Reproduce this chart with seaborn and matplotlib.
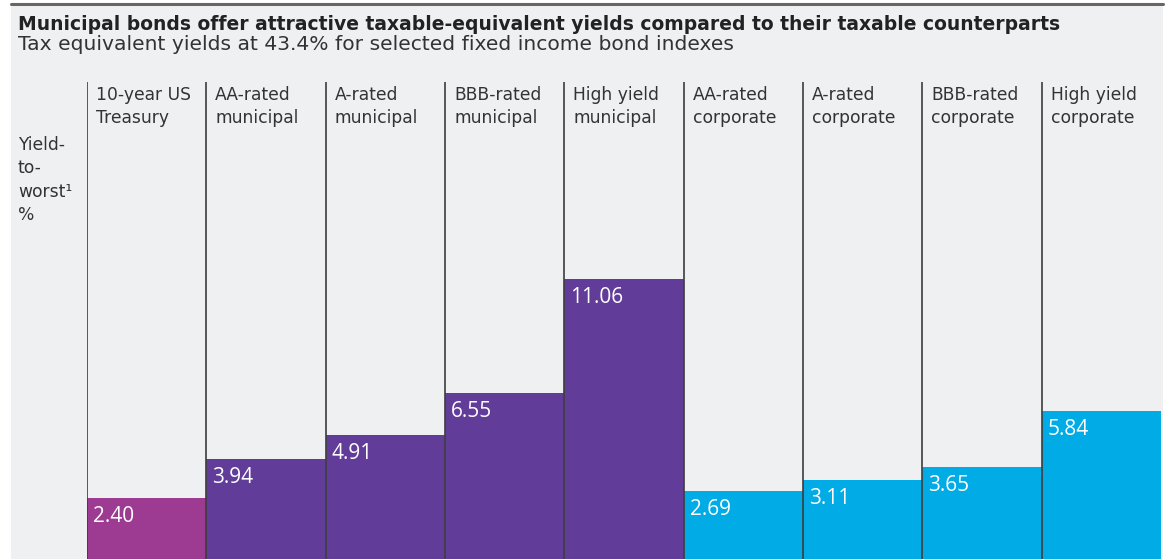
import matplotlib
matplotlib.use("Agg")
import matplotlib.pyplot as plt
from matplotlib.patches import Rectangle
from matplotlib.lines import Line2D
import seaborn as sns
import pandas as pd

# ---- data ----
categories = ["10-year US\nTreasury", "AA-rated\nmunicipal", "A-rated\nmunicipal",
              "BBB-rated\nmunicipal", "High yield\nmunicipal", "AA-rated\ncorporate",
              "A-rated\ncorporate", "BBB-rated\ncorporate", "High yield\ncorporate"]
values = [2.40, 3.94, 4.91, 6.55, 11.06, 2.69, 3.11, 3.65, 5.84]
groups = ["Treasury", "Municipal", "Municipal", "Municipal", "Municipal",
          "Corporate", "Corporate", "Corporate", "Corporate"]
value_labels = ["2.40", "3.94", "4.91", "6.55", "11.06", "2.69", "3.11", "3.65", "5.84"]
title = "Municipal bonds offer attractive taxable-equivalent yields compared to their taxable counterparts"
subtitle = "Tax equivalent yields at 43.4% for selected fixed income bond indexes"
ylabel = "Yield-\nto-\nworst\u00b9\n%"

palette = {"Treasury": "#9c3b91", "Municipal": "#613d99", "Corporate": "#00abe6"}
BG = "#eff0f2"

sns.set_theme(style="white")
plt.rcParams["font.family"] = ["DejaVu Sans"]

W, H = 1170, 559
fig = plt.figure(figsize=(W / 100, H / 100), dpi=100)
fig.patch.set_facecolor("white")

# panel background + top rule
fig.patches.append(Rectangle((11 / W, 0), (1163 - 11) / W, (H - 4) / H,
                             transform=fig.transFigure, facecolor=BG, edgecolor="none", zorder=-5))
fig.lines.append(Line2D([11 / W, 1163 / W], [(H - 4) / H, (H - 4) / H],
                        transform=fig.transFigure, color="#666666", lw=2.2, zorder=-4))

ax = fig.add_axes([87 / W, 0, (1161 - 87) / W, (H - 82) / H])
ax.set_facecolor("none")
ax.set_zorder(2)

df = pd.DataFrame({"cat": categories, "val": values, "grp": groups})
sns.barplot(data=df, x="cat", y="val", hue="grp", palette=palette, order=categories,
            hue_order=["Treasury", "Municipal", "Corporate"], dodge=False, width=1.0,
            saturation=1, linewidth=0, legend=False, ax=ax, zorder=2)

ax.set_xlim(-0.5, len(categories) - 0.5)
ax.set_ylim(0, (H - 82) / 25.32)
for s in ax.spines.values():
    s.set_visible(False)
ax.set_xticks([])
ax.set_yticks([])
ax.set_xlabel("")
ax.set_ylabel("")

for i, (cat, v, lab) in enumerate(zip(categories, values, value_labels)):
    ax.axvline(i - 0.5, color="#3d3d3d", lw=1.2, zorder=3)
    ax.annotate(cat, xy=(i - 0.5, 1), xycoords=("data", "axes fraction"),
                xytext=(9, -4), textcoords="offset pixels", ha="left", va="top",
                fontsize=12.3, color="#333333", linespacing=1.38)
    ax.annotate(lab, xy=(i - 0.5, v), xycoords="data",
                xytext=(6, -8), textcoords="offset pixels", ha="left", va="top",
                fontsize=15, color="white", zorder=4, family=["Open Sans", "DejaVu Sans"])

fig.text(18 / W, 1 - 15 / H, title, ha="left", va="top", fontsize=13.5,
         fontweight="bold", color="#222222")
fig.text(18 / W, 1 - 35 / H, subtitle, ha="left", va="top", fontsize=14.6,
         color="#333333")
fig.text(18 / W, 1 - 136 / H, ylabel, ha="left", va="top", fontsize=12.3,
         color="#333333", linespacing=1.38)

fig.savefig("out.png", dpi=100, facecolor="white")
